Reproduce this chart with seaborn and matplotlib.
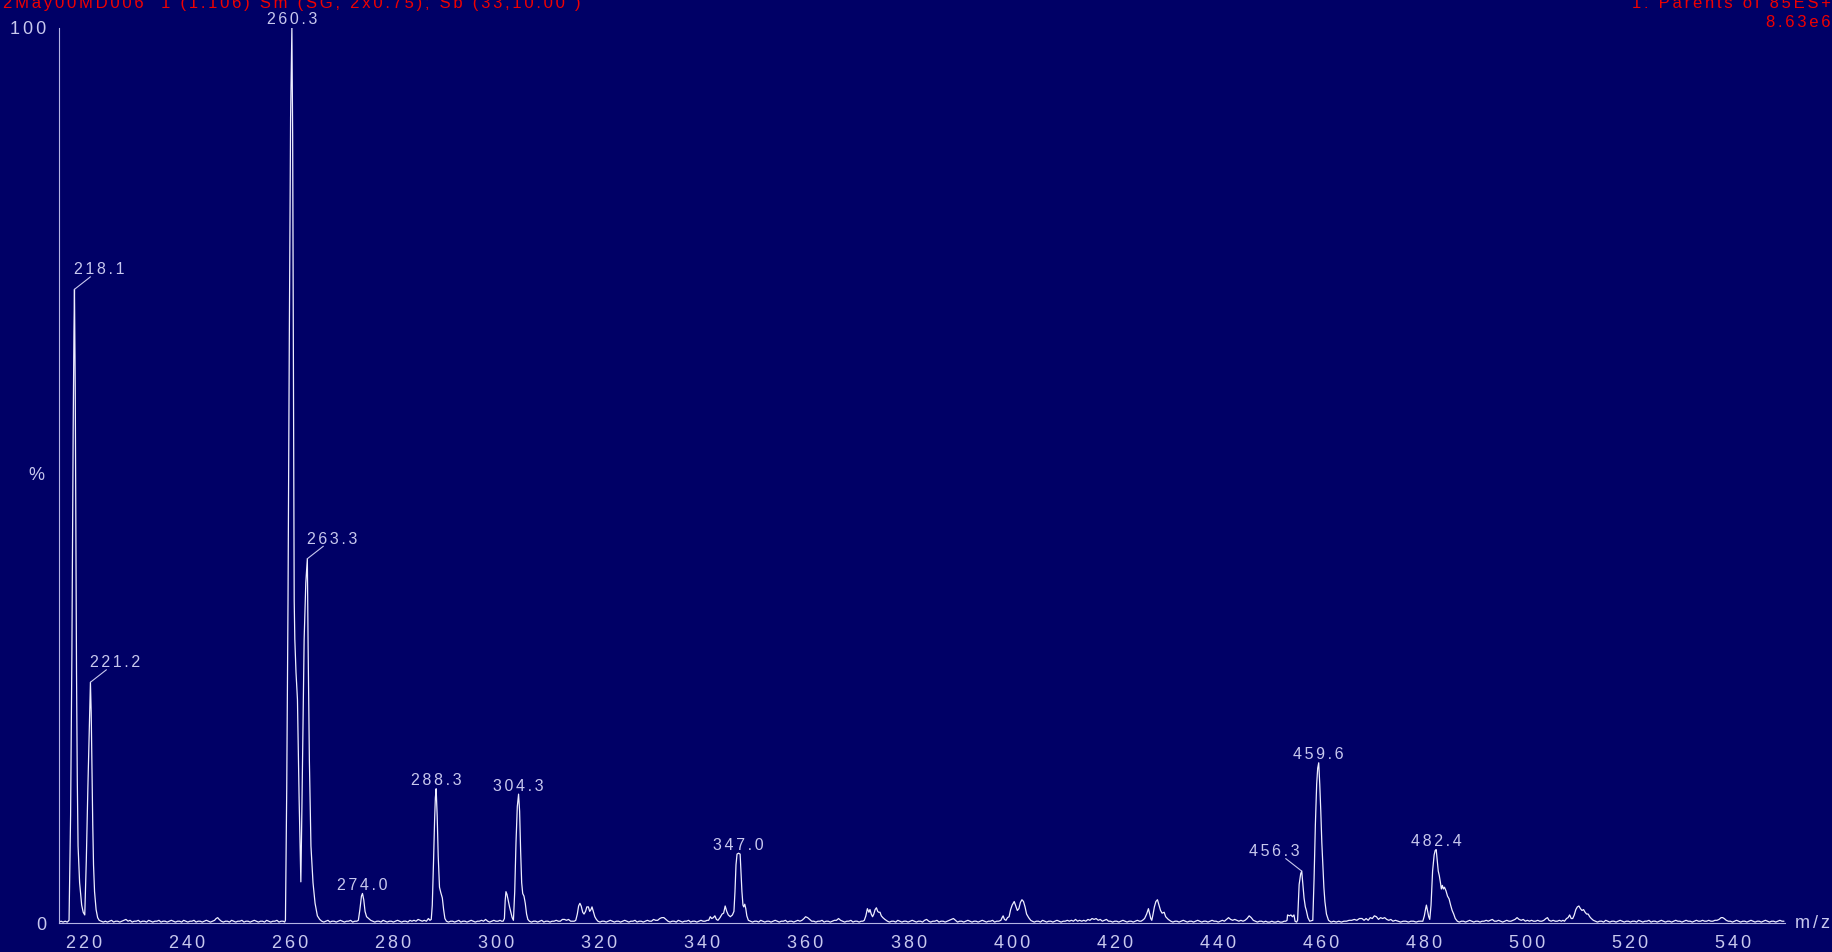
import matplotlib
matplotlib.use("Agg")
import matplotlib.pyplot as plt
from matplotlib.ticker import MultipleLocator, FixedLocator, FuncFormatter
import pandas as pd
import seaborn as sns

# ---------------------------------------------------------------- text
header_left = "2May00MD006  1 (1.106) Sm (SG, 2x0.75); Sb (33,10.00 )"
header_right = "1: Parents of 85ES+"
base_peak_intensity = "8.63e6"
x_unit = "m/z"
y_unit = "%"

# ---------------------------------------------------------------- labelled peaks
peak_mz = [218.1, 221.2, 260.3, 263.3, 274.0, 288.3, 304.3, 347.0, 456.3, 459.6, 482.4]
peak_pct = [70.8, 26.9, 100.0, 40.7, 3.3, 15.0, 14.4, 7.8, 5.8, 17.9, 8.2]
peak_side = ["right", "right", "top", "right", "top", "top", "top", "top", "left", "top", "top"]

# ---------------------------------------------------------------- profile (m/z, % of base peak)
seg_215 = [(215.1, 0.1), (215.5, 0.2), (215.9, 0.1), (216.3, 0.2), (216.7, 0.1), (217.05, 0.3),
           (217.35, 12), (217.6, 30), (217.85, 55), (218.0, 66),
           (218.25, 60), (218.4, 40), (218.5, 28), (218.65, 16), (218.8, 8.6), (219.1, 4.5),
           (219.5, 2.0), (219.8, 1.2), (220.1, 0.9), (220.4, 7), (220.7, 15), (221.0, 22),
           (221.35, 23.5), (221.5, 17), (221.65, 11), (221.8, 6.5), (222.0, 3.5), (222.3, 1.5),
           (222.6, 0.6), (222.9, 0.3)]
seg_223 = [(223.3, 0.2), (223.7, 0.1), (224.1, 0.2), (224.5, 0.1), (224.9, 0.2), (225.3, 0.3), (225.7, 0.1),
           (226.1, 0.2), (226.5, 0.2), (226.9, 0.1), (227.3, 0.2), (227.7, 0.3), (228.1, 0.4), (228.5, 0.2),
           (228.9, 0.3), (229.3, 0.1), (229.7, 0.2), (230.1, 0.2), (230.5, 0.3), (230.9, 0.1), (231.3, 0.2),
           (231.7, 0.2), (232.1, 0.1), (232.5, 0.3), (232.9, 0.2), (233.3, 0.1), (233.7, 0.2), (234.1, 0.2),
           (234.5, 0.3), (234.9, 0.1), (235.3, 0.2), (235.7, 0.2), (236.1, 0.1), (236.5, 0.2), (236.9, 0.3),
           (237.3, 0.2), (237.7, 0.1), (238.1, 0.2), (238.5, 0.2), (238.9, 0.1), (239.3, 0.3), (239.7, 0.2),
           (240.1, 0.1), (240.5, 0.2), (240.9, 0.2), (241.3, 0.3), (241.7, 0.1), (242.1, 0.2), (242.5, 0.2),
           (242.9, 0.1), (243.3, 0.2), (243.7, 0.3), (244.1, 0.2), (244.5, 0.1), (244.9, 0.2), (245.3, 0.3),
           (245.6, 0.5), (245.9, 0.6), (246.2, 0.4), (246.6, 0.2), (247.0, 0.1), (247.4, 0.2), (247.8, 0.2),
           (248.2, 0.1), (248.6, 0.3), (249.0, 0.2), (249.4, 0.1), (249.8, 0.2), (250.2, 0.2), (250.6, 0.3),
           (251.0, 0.1), (251.4, 0.2), (251.8, 0.2), (252.2, 0.1), (252.6, 0.2), (253.0, 0.3), (253.4, 0.2),
           (253.8, 0.1), (254.2, 0.2), (254.6, 0.2), (255.0, 0.1), (255.4, 0.3), (255.8, 0.2), (256.2, 0.1),
           (256.6, 0.2), (257.0, 0.2), (257.4, 0.3), (257.8, 0.1), (258.2, 0.2), (258.6, 0.2), (258.9, 0.1)]
seg_260 = [(259.05, 0.3), (259.3, 15), (259.55, 36), (259.8, 65), (260.05, 90),
           (260.45, 88), (260.6, 62), (260.75, 36), (260.87, 31.7), (261.1, 28), (261.38, 25), (261.7, 14),
           (262.04, 4.6), (262.25, 13), (262.45, 22), (262.68, 31.7), (263.0, 38),
           (263.45, 31), (263.7, 18), (264.0, 8.6), (264.4, 4.5), (264.8, 2.2), (265.25, 0.8), (265.7, 0.4)]
seg_266 = [(266.1, 0.2), (266.5, 0.1), (266.9, 0.2), (267.3, 0.3), (267.7, 0.1), (268.1, 0.2), (268.5, 0.2),
           (268.9, 0.1), (269.3, 0.2), (269.7, 0.3), (270.1, 0.2), (270.5, 0.1), (270.9, 0.2), (271.3, 0.2),
           (271.7, 0.3), (272.1, 0.1), (272.5, 0.2), (272.9, 0.2)]
seg_274 = [(273.2, 0.3), (273.5, 1.5), (273.8, 3.0), (274.25, 2.6), (274.5, 1.3), (274.8, 0.7), (275.2, 0.5),
           (275.6, 0.3), (276.0, 0.2)]
seg_276 = [(276.4, 0.1), (276.8, 0.2), (277.2, 0.2), (277.6, 0.1), (278.0, 0.3), (278.4, 0.2), (278.8, 0.1),
           (279.2, 0.2), (279.6, 0.2), (280.0, 0.1), (280.4, 0.2), (280.8, 0.3), (281.2, 0.2), (281.6, 0.1),
           (282.0, 0.2), (282.4, 0.2), (282.8, 0.1), (283.2, 0.3), (283.6, 0.2), (284.0, 0.3), (284.4, 0.2),
           (284.8, 0.4), (285.2, 0.3), (285.6, 0.2), (286.0, 0.3), (286.4, 0.2), (286.8, 0.5), (287.1, 0.3)]
seg_288 = [(287.35, 0.4), (287.55, 2.0), (287.8, 7), (288.0, 11.5), (288.15, 14), (288.5, 12), (288.7, 7.5),
           (288.95, 4), (289.2, 3.4), (289.5, 2.8), (289.75, 1.5), (290.0, 0.5), (290.3, 0.2)]
seg_290 = [(290.7, 0.1), (291.1, 0.2), (291.5, 0.2), (291.9, 0.1), (292.3, 0.2), (292.7, 0.3), (293.1, 0.1),
           (293.5, 0.2), (293.9, 0.2), (294.3, 0.1), (294.7, 0.2), (295.1, 0.3), (295.5, 0.2), (295.9, 0.1),
           (296.3, 0.2), (296.7, 0.2), (297.1, 0.3), (297.5, 0.2), (297.9, 0.4), (298.3, 0.2), (298.7, 0.1),
           (299.1, 0.2), (299.5, 0.3), (299.9, 0.2), (300.3, 0.2), (300.7, 0.3), (301.0, 0.2)]
seg_304 = [(301.3, 0.2), (301.55, 0.5), (301.7, 2.5), (301.85, 3.5), (302.05, 3.2), (302.3, 2.5), (302.55, 1.8),
           (302.8, 1.2), (303.05, 0.6), (303.3, 0.3), (303.55, 3.5), (303.8, 9), (304.05, 13),
           (304.5, 12.5), (304.7, 8), (304.9, 4.5), (305.1, 3.3), (305.35, 3.0), (305.6, 2.2), (305.85, 1.0),
           (306.1, 0.4), (306.4, 0.2)]
seg_306 = [(306.8, 0.1), (307.2, 0.2), (307.6, 0.2), (308.0, 0.1), (308.4, 0.2), (308.8, 0.3), (309.2, 0.1),
           (309.6, 0.2), (310.0, 0.2), (310.4, 0.1), (310.8, 0.2), (311.2, 0.2), (311.6, 0.3), (312.0, 0.2),
           (312.4, 0.2), (312.8, 0.4), (313.2, 0.4), (313.6, 0.3), (314.0, 0.4), (314.4, 0.2), (314.8, 0.2),
           (315.1, 0.2)]
seg_317 = [(315.4, 0.3), (315.7, 1.0), (315.95, 1.9), (316.2, 2.2), (316.45, 1.9), (316.75, 1.2), (317.0, 1.0),
           (317.3, 1.3), (317.55, 1.8), (317.85, 1.8), (318.1, 1.3), (318.35, 1.5), (318.55, 1.8), (318.8, 1.3),
           (319.1, 0.7), (319.4, 0.4), (319.7, 0.2)]
seg_320 = [(320.1, 0.1), (320.5, 0.2), (320.9, 0.2), (321.3, 0.1), (321.7, 0.2), (322.1, 0.3), (322.5, 0.2),
           (322.9, 0.1), (323.3, 0.2), (323.7, 0.2), (324.1, 0.1), (324.5, 0.2), (324.9, 0.3), (325.3, 0.2),
           (325.7, 0.1), (326.1, 0.2), (326.5, 0.2), (326.9, 0.3), (327.3, 0.1), (327.7, 0.2), (328.1, 0.2),
           (328.5, 0.1), (328.9, 0.2), (329.3, 0.3), (329.7, 0.2), (330.1, 0.2), (330.5, 0.4), (330.9, 0.3),
           (331.3, 0.3), (331.7, 0.5), (332.1, 0.6), (332.5, 0.6), (332.9, 0.4), (333.3, 0.2), (333.7, 0.1),
           (334.1, 0.2), (334.5, 0.2), (334.9, 0.1), (335.3, 0.3), (335.7, 0.2), (336.1, 0.1), (336.5, 0.2),
           (336.9, 0.2), (337.3, 0.3), (337.7, 0.1), (338.1, 0.2), (338.5, 0.2), (338.9, 0.1), (339.3, 0.2),
           (339.7, 0.3), (340.1, 0.2), (340.5, 0.2), (340.9, 0.3)]
seg_347 = [(341.2, 0.3), (341.5, 0.7), (341.8, 0.5), (342.1, 0.6), (342.4, 0.8), (342.7, 0.4), (343.0, 0.3),
           (343.4, 0.6), (343.8, 1.0), (344.1, 1.1), (344.4, 1.9), (344.7, 1.3), (345.0, 0.9), (345.4, 0.7),
           (345.8, 0.9), (346.1, 1.3), (346.3, 3.5), (346.5, 6.5), (346.7, 7.7),
           (347.3, 7.7), (347.45, 6.0), (347.65, 3.5), (347.85, 2.0), (348.0, 1.8), (348.2, 2.1), (348.4, 1.6),
           (348.6, 0.8), (348.9, 0.3), (349.3, 0.2)]
seg_349 = [(349.7, 0.1), (350.1, 0.2), (350.5, 0.2), (350.9, 0.1), (351.3, 0.3), (351.7, 0.2), (352.1, 0.1),
           (352.5, 0.2), (352.9, 0.2), (353.3, 0.1), (353.7, 0.2), (354.1, 0.3), (354.5, 0.2), (354.9, 0.1),
           (355.3, 0.2), (355.7, 0.2), (356.1, 0.3), (356.5, 0.1), (356.9, 0.2), (357.3, 0.2), (357.7, 0.1),
           (358.1, 0.2), (358.5, 0.3), (358.9, 0.2), (359.3, 0.3), (359.7, 0.5), (360.0, 0.7), (360.4, 0.6),
           (360.8, 0.4), (361.2, 0.2), (361.6, 0.2), (362.0, 0.1), (362.4, 0.2), (362.8, 0.2), (363.2, 0.3),
           (363.6, 0.1), (364.0, 0.2), (364.4, 0.2), (364.8, 0.1), (365.2, 0.2), (365.6, 0.3), (366.0, 0.3),
           (366.4, 0.5), (366.8, 0.3), (367.2, 0.2), (367.6, 0.1), (368.0, 0.2), (368.4, 0.2), (368.8, 0.3),
           (369.2, 0.1), (369.6, 0.2), (370.0, 0.2), (370.4, 0.1), (370.8, 0.2), (371.1, 0.2)]
seg_373 = [(371.4, 0.3), (371.7, 0.8), (372.0, 1.6), (372.3, 1.2), (372.5, 1.5), (372.75, 1.0), (373.0, 0.7),
           (373.25, 1.0), (373.5, 1.5), (373.75, 1.7), (374.0, 1.3), (374.2, 1.2), (374.45, 1.2), (374.7, 0.8),
           (375.0, 0.6), (375.4, 0.4), (375.9, 0.2)]
seg_376 = [(376.3, 0.1), (376.7, 0.2), (377.1, 0.2), (377.5, 0.1), (377.9, 0.3), (378.3, 0.2), (378.7, 0.1),
           (379.1, 0.2), (379.5, 0.2), (379.9, 0.1), (380.3, 0.2), (380.7, 0.3), (381.1, 0.2), (381.5, 0.1),
           (381.9, 0.2), (382.3, 0.2), (382.7, 0.1), (383.1, 0.3), (383.5, 0.4), (383.9, 0.2), (384.3, 0.1),
           (384.7, 0.2), (385.1, 0.2), (385.5, 0.3), (385.9, 0.1), (386.3, 0.2), (386.7, 0.2), (387.1, 0.1),
           (387.5, 0.2), (387.9, 0.3), (388.3, 0.4), (388.7, 0.5), (389.1, 0.3), (389.5, 0.1), (389.9, 0.2),
           (390.3, 0.2), (390.7, 0.1), (391.1, 0.2), (391.5, 0.3), (391.9, 0.2), (392.3, 0.1), (392.7, 0.2),
           (393.1, 0.2), (393.5, 0.1), (393.9, 0.2), (394.3, 0.3), (394.7, 0.2), (395.1, 0.1), (395.5, 0.2),
           (395.9, 0.2), (396.3, 0.3), (396.7, 0.1), (397.1, 0.2), (397.5, 0.2)]
seg_401 = [(397.9, 0.3), (398.15, 0.6), (398.35, 0.8), (398.6, 0.4), (398.9, 0.3), (399.2, 0.6), (399.5, 0.7),
           (399.8, 1.5), (400.1, 2.0), (400.5, 2.4), (400.8, 1.9), (401.1, 1.4), (401.4, 1.6), (401.7, 2.3),
           (402.0, 2.6), (402.3, 2.4), (402.6, 1.8), (402.9, 1.0), (403.3, 0.6), (403.7, 0.3), (404.0, 0.2)]
seg_404 = [(404.4, 0.1), (404.8, 0.2), (405.2, 0.2), (405.6, 0.1), (406.0, 0.3), (406.4, 0.2), (406.8, 0.1),
           (407.2, 0.2), (407.6, 0.2), (408.0, 0.1), (408.4, 0.2), (408.8, 0.3), (409.2, 0.2), (409.6, 0.1),
           (410.0, 0.2), (410.4, 0.2), (410.8, 0.3), (411.2, 0.2), (411.6, 0.3), (412.0, 0.2), (412.4, 0.4),
           (412.8, 0.2), (413.2, 0.3), (413.6, 0.2), (414.0, 0.3), (414.4, 0.2), (414.8, 0.4), (415.2, 0.3),
           (415.6, 0.5), (416.0, 0.4), (416.4, 0.5), (416.8, 0.3), (417.2, 0.4), (417.6, 0.2), (418.0, 0.3),
           (418.4, 0.4), (418.8, 0.2), (419.2, 0.2), (419.6, 0.1), (420.0, 0.2), (420.4, 0.2), (420.8, 0.1),
           (421.2, 0.2), (421.6, 0.3), (422.0, 0.2), (422.4, 0.1), (422.8, 0.2), (423.2, 0.2), (423.6, 0.1),
           (424.0, 0.2), (424.4, 0.3), (424.8, 0.2), (425.1, 0.2)]
seg_428 = [(425.4, 0.3), (425.8, 0.5), (426.2, 1.0), (426.55, 1.6), (426.8, 1.0), (427.0, 0.5), (427.2, 0.3),
           (427.45, 1.0), (427.7, 1.8), (428.0, 2.4), (428.3, 2.6), (428.6, 2.0), (428.9, 1.4), (429.2, 1.1),
           (429.6, 1.2), (429.9, 0.7), (430.4, 0.4), (430.9, 0.2)]
seg_431 = [(431.3, 0.1), (431.7, 0.2), (432.1, 0.2), (432.5, 0.1), (432.9, 0.2), (433.3, 0.3), (433.7, 0.2),
           (434.1, 0.1), (434.5, 0.2), (434.9, 0.2), (435.3, 0.1), (435.7, 0.2), (436.1, 0.3), (436.5, 0.2),
           (436.9, 0.1), (437.3, 0.2), (437.7, 0.2), (438.1, 0.1), (438.5, 0.2), (438.9, 0.3), (439.3, 0.2),
           (439.7, 0.2), (440.1, 0.1), (440.5, 0.2), (440.9, 0.3), (441.3, 0.2), (441.7, 0.4), (442.1, 0.6),
           (442.5, 0.4), (442.9, 0.3), (443.3, 0.4), (443.7, 0.3), (444.1, 0.2), (444.5, 0.3), (444.9, 0.2),
           (445.3, 0.3), (445.7, 0.5), (446.1, 0.8), (446.5, 0.6), (446.9, 0.3), (447.3, 0.2), (447.7, 0.1),
           (448.1, 0.2), (448.5, 0.2), (448.9, 0.1), (449.3, 0.2), (449.7, 0.1), (450.1, 0.1), (450.5, 0.2),
           (450.9, 0.1), (451.3, 0.1), (451.7, 0.2), (452.1, 0.1), (452.5, 0.1), (452.9, 0.2)]
seg_458 = [(453.2, 0.2), (453.45, 0.3), (453.55, 0.9), (453.9, 0.8), (454.2, 0.9), (454.5, 0.7), (454.8, 0.9),
           (455.0, 0.2), (455.3, 0.1), (455.5, 0.3), (455.8, 4.3), (456.1, 5.5),
           (456.5, 4.5), (456.75, 2.8), (457.0, 1.8), (457.2, 1.4), (457.5, 0.6), (457.85, 0.2),
           (458.45, 0.3), (458.7, 5), (458.95, 11), (459.2, 15.5), (459.4, 17.3),
           (459.8, 15.5), (460.0, 12.5), (460.2, 9), (460.4, 6.4), (460.6, 4), (460.8, 2.4), (461.1, 1.0),
           (461.5, 0.3)]
seg_462 = [(462.0, 0.1), (462.5, 0.2), (463.0, 0.1), (463.5, 0.2), (464.0, 0.1), (464.5, 0.2), (465.0, 0.2),
           (465.5, 0.3), (466.0, 0.3), (466.5, 0.4), (467.0, 0.3), (467.5, 0.5), (468.0, 0.5), (468.4, 0.3),
           (468.8, 0.5), (469.2, 0.3), (469.6, 0.6), (470.0, 0.5), (470.4, 0.8), (470.8, 0.7), (471.2, 0.4),
           (471.6, 0.6), (472.0, 0.5), (472.4, 0.6), (472.8, 0.4), (473.2, 0.3), (473.6, 0.4), (474.0, 0.2),
           (474.5, 0.3), (475.0, 0.2), (475.5, 0.1), (476.0, 0.2), (476.5, 0.2), (477.0, 0.1), (477.5, 0.2),
           (478.0, 0.2), (478.5, 0.1), (479.0, 0.2), (479.5, 0.2)]
seg_482 = [(479.8, 0.2), (480.1, 0.8), (480.35, 1.6), (480.5, 2.0), (480.7, 1.4), (480.95, 0.7), (481.15, 0.4),
           (481.4, 2.0), (481.7, 5.8), (482.0, 7.6), (482.2, 8.1),
           (482.6, 7.0), (482.8, 5.8), (483.0, 5.3), (483.2, 4.6), (483.4, 3.8), (483.6, 4.2), (483.8, 3.8),
           (484.0, 4.0), (484.3, 3.6), (484.6, 3.0), (484.9, 2.7), (485.2, 2.0), (485.5, 1.4), (485.8, 1.0),
           (486.1, 0.5), (486.5, 0.2)]
seg_487 = [(486.9, 0.1), (487.3, 0.2), (487.7, 0.2), (488.1, 0.1), (488.5, 0.2), (488.9, 0.3), (489.3, 0.2),
           (489.7, 0.1), (490.1, 0.2), (490.5, 0.2), (490.9, 0.1), (491.3, 0.2), (491.7, 0.2), (492.1, 0.3),
           (492.5, 0.2), (492.9, 0.3), (493.3, 0.4), (493.7, 0.2), (494.1, 0.2), (494.5, 0.3), (494.9, 0.2),
           (495.3, 0.1), (495.7, 0.2), (496.1, 0.3), (496.5, 0.2), (496.9, 0.2), (497.3, 0.3), (497.7, 0.4),
           (498.1, 0.6), (498.5, 0.4), (498.9, 0.3), (499.3, 0.4), (499.7, 0.2), (500.1, 0.3), (500.5, 0.2),
           (500.9, 0.3), (501.3, 0.2), (501.7, 0.2), (502.1, 0.3), (502.5, 0.2), (502.9, 0.2), (503.3, 0.3),
           (503.7, 0.5), (504.0, 0.6), (504.3, 0.3), (504.7, 0.2), (505.1, 0.3), (505.5, 0.2), (505.9, 0.2),
           (506.3, 0.3), (506.7, 0.2), (507.0, 0.3)]
seg_510 = [(507.3, 0.2), (507.7, 0.5), (508.0, 0.6), (508.3, 0.9), (508.6, 0.5), (508.9, 0.5), (509.2, 0.9),
           (509.5, 1.5), (509.8, 1.8), (510.1, 1.9), (510.4, 1.6), (510.7, 1.4), (511.0, 1.5), (511.3, 1.2),
           (511.6, 1.0), (511.9, 1.0), (512.2, 0.7), (512.5, 0.5), (512.9, 0.3), (513.3, 0.2)]
seg_514 = [(513.7, 0.1), (514.1, 0.2), (514.5, 0.2), (514.9, 0.1), (515.3, 0.3), (515.7, 0.2), (516.1, 0.1),
           (516.5, 0.2), (516.9, 0.2), (517.3, 0.1), (517.7, 0.2), (518.1, 0.3), (518.5, 0.2), (518.9, 0.1),
           (519.3, 0.2), (519.7, 0.2), (520.1, 0.1), (520.5, 0.2), (520.9, 0.2), (521.3, 0.1), (521.7, 0.3),
           (522.1, 0.2), (522.5, 0.1), (522.9, 0.2), (523.3, 0.2), (523.7, 0.3), (524.1, 0.1), (524.5, 0.2),
           (524.9, 0.2), (525.3, 0.1), (525.7, 0.2), (526.1, 0.3), (526.5, 0.2), (526.9, 0.1), (527.3, 0.2),
           (527.7, 0.2), (528.1, 0.1), (528.5, 0.2), (528.9, 0.3), (529.3, 0.2), (529.7, 0.2), (530.1, 0.1),
           (530.5, 0.2), (530.9, 0.3), (531.3, 0.2), (531.7, 0.2), (532.1, 0.1), (532.5, 0.2), (532.9, 0.3),
           (533.3, 0.2), (533.7, 0.2), (534.1, 0.3), (534.5, 0.2), (534.9, 0.2), (535.3, 0.3), (535.7, 0.2),
           (536.1, 0.2), (536.5, 0.3), (536.9, 0.3), (537.3, 0.4), (537.7, 0.6), (538.0, 0.6), (538.3, 0.5),
           (538.7, 0.3), (539.1, 0.2), (539.5, 0.2), (539.9, 0.1), (540.3, 0.2), (540.7, 0.3), (541.1, 0.2),
           (541.5, 0.1), (541.9, 0.2), (542.3, 0.2), (542.7, 0.1), (543.1, 0.2), (543.5, 0.3), (543.9, 0.2),
           (544.3, 0.1), (544.7, 0.2), (545.1, 0.2), (545.5, 0.1), (545.9, 0.2), (546.3, 0.3), (546.7, 0.2),
           (547.1, 0.1), (547.5, 0.2), (547.9, 0.2), (548.3, 0.1), (548.7, 0.2), (549.1, 0.3), (549.5, 0.2),
           (549.9, 0.2)]

segments = [seg_215, seg_223, seg_260, seg_266, seg_274, seg_276, seg_288, seg_290, seg_304, seg_306,
            seg_317, seg_320, seg_347, seg_349, seg_373, seg_376, seg_401, seg_404, seg_428, seg_431,
            seg_458, seg_462, seg_482, seg_487, seg_510, seg_514]

# ---------------------------------------------------------------- styling
NAVY = "#000066"
TRACE = "#eeeeff"
INK = "#c8c8ee"
AXIS = "#b4b4e4"
RED = "#f00000"
W, H, DPI = 1832, 952, 100
GAP = "\u2006"


def spaced(text):
    """Widen the letter spacing the way the instrument software prints it."""
    return GAP.join(text)


sns.set_style("white", {"axes.facecolor": NAVY, "figure.facecolor": NAVY})
plt.rcParams["font.family"] = ["Liberation Sans", "DejaVu Sans"]

rows = [pt for seg in segments for pt in seg] + list(zip(peak_mz, peak_pct))
spectrum = pd.DataFrame(rows, columns=["mz", "pct"]).sort_values("mz").reset_index(drop=True)

fig = plt.figure(figsize=(W / DPI, H / DPI), dpi=DPI)
fig.patch.set_facecolor(NAVY)
ax = fig.add_axes([59 / W, 1 - 923 / H, (1785 - 59) / W, (923 - 28) / H])
ax.set_facecolor(NAVY)

sns.lineplot(data=spectrum, x="mz", y="pct", ax=ax, color=TRACE, linewidth=0.9,
             sort=False, estimator=None)

ax.set_xlim(215.1, 550.1)
ax.set_ylim(0, 100)
ax.set_xlabel("")
ax.set_ylabel("")

for side in ("top", "right"):
    ax.spines[side].set_visible(False)
for side in ("left", "bottom"):
    ax.spines[side].set_color(AXIS)
    ax.spines[side].set_linewidth(0.8)

# x axis: long ticks every 10, short every 2, numbers every 20
ax.xaxis.set_major_locator(MultipleLocator(10))
ax.xaxis.set_minor_locator(MultipleLocator(2))
ax.xaxis.set_major_formatter(FuncFormatter(
    lambda v, p: spaced(f"{v:.0f}") if round(v) % 20 == 0 else ""))
ax.tick_params(axis="x", which="major", length=6.2, width=0.8, color=AXIS,
               labelcolor=INK, labelsize=13, pad=2.5, direction="out")
ax.tick_params(axis="x", which="minor", length=3.6, width=0.8, color=AXIS, direction="out")

# y axis: 0 and 100 labelled, decades marked
ax.yaxis.set_major_locator(FixedLocator([0, 100]))
ax.yaxis.set_minor_locator(FixedLocator([10, 20, 30, 40, 50, 60, 70, 80, 90]))
ax.yaxis.set_major_formatter(FuncFormatter(lambda v, p: spaced(f"{v:.0f}")))
ax.tick_params(axis="y", which="major", length=7.8, width=0.8, color=AXIS,
               labelcolor=INK, labelsize=13, pad=1.5, direction="out")
ax.tick_params(axis="y", which="minor", length=3.6, width=0.8, color=AXIS, direction="out")

ax.annotate(y_unit, xy=(0, 50), xycoords=("axes fraction", "data"), xytext=(-15, 0),
            textcoords="offset pixels", ha="right", va="center", color=INK, fontsize=13)
ax.annotate(spaced(x_unit), xy=(1, 0), xycoords="axes fraction", xytext=(10, 0),
            textcoords="offset pixels", ha="left", va="center", color=INK, fontsize=13)

# peak labels
for mz, pct, side in zip(peak_mz, peak_pct, peak_side):
    label = spaced(f"{mz:.1f}")
    if side == "top":
        ax.annotate(label, xy=(mz, pct), xytext=(0, 3.5), textcoords="offset pixels",
                    ha="center", va="baseline", color=INK, fontsize=11.5, annotation_clip=False)
    else:
        sign = 1 if side == "right" else -1
        ax.annotate("", xy=(mz, pct), xytext=(16 * sign, 12.5), textcoords="offset pixels",
                    arrowprops=dict(arrowstyle="-", color=INK, lw=0.8, shrinkA=0, shrinkB=0))
        ax.annotate(label, xy=(mz, pct), xytext=(0 if sign > 0 else -2, 15), textcoords="offset pixels",
                    ha="left" if sign > 0 else "right", va="baseline", color=INK, fontsize=11.5)

# run header, printed flush against the top edge
fig.text(3 / W, 1 - 8 / H, spaced(header_left), ha="left", va="baseline", color=RED, fontsize=12)
fig.text(1831 / W, 1 - 8 / H, spaced(header_right), ha="right", va="baseline", color=RED, fontsize=12)
fig.text(1831 / W, 1 - 27 / H, spaced(base_peak_intensity), ha="right", va="baseline", color=RED, fontsize=12)

fig.savefig("out.png", dpi=DPI, facecolor=NAVY)
